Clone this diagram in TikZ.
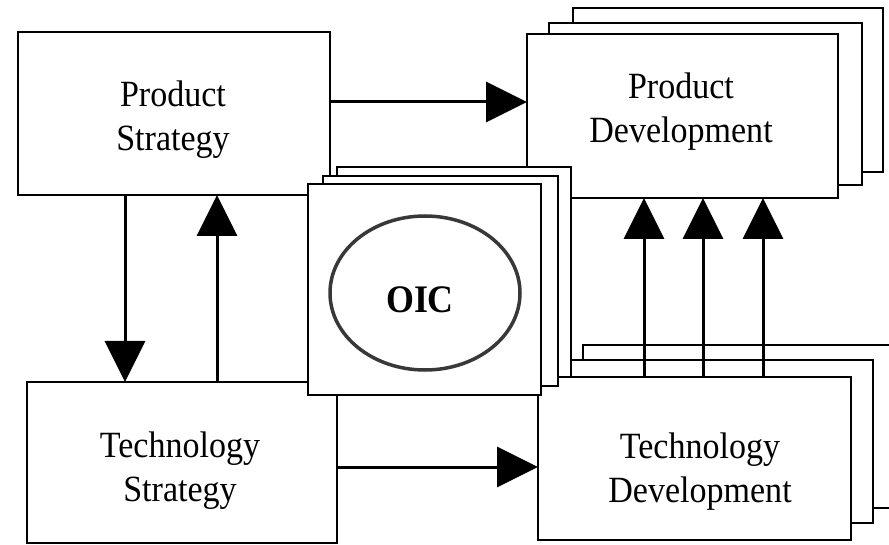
\documentclass[tikz,border=0pt]{standalone}
\usepackage{fontspec}
\setmainfont{Liberation Serif}[FakeStretch=0.92]
\usetikzlibrary{arrows.meta,shapes.geometric}
\definecolor{ringgray}{gray}{0.22}
\tikzset{
  box/.style={draw, line width=2.8pt, fill=white, rectangle, inner sep=0pt, outer sep=0pt},
  lbl/.style={align=center, inner sep=0pt, font=\fontsize{37}{44}\selectfont},
  arr/.style={line width=3pt, -{Triangle[length=41pt,width=40pt]}},
}
\begin{document}
\begin{tikzpicture}[x=1pt, y=-1pt]
  \useasboundingbox (0,0) rectangle (889,545);
  \clip (0,0) rectangle (889,545);

  % Technology Development stack (back to front)
  \node[box, minimum width=313pt, minimum height=163pt] (td3) at (739.5,426.5) {};
  \node[box, minimum width=313pt, minimum height=163pt] (td2) at (716.5,441.5) {};
  \node[box, minimum width=313pt, minimum height=163pt] (td1) at (694.5,458.5) {};

  % Product Development stack (back to front)
  \node[box, minimum width=310pt, minimum height=164pt] (pd3) at (728,90) {};
  \node[box, minimum width=313pt, minimum height=162pt] (pd2) at (705.5,104) {};
  \node[box, minimum width=311pt, minimum height=164pt] (pd1) at (682.5,116) {};

  % Strategy boxes
  \node[box, minimum width=312pt, minimum height=163pt] (ps) at (174,113.5) {};
  \node[box, minimum width=310pt, minimum height=161pt] (ts) at (182,462.5) {};

  % Box texts
  \node[lbl] (pstext) at (173,120) {Product\\Strategy};
  \node[lbl] (pdtext) at (681,111.5) {Product\\Development};
  \node[lbl] (tstext) at (180,471) {Technology\\Strategy};
  \node[lbl] (tdtext) at (700,471.5) {Technology\\Development};

  % Connectors
  \draw[arr] (ps.east |- 0,102) -- (pd1.west |- 0,102);
  \draw[arr] (ps.south -| 125,0) -- (ts.north -| 125,0);
  \draw[arr] (ts.north -| 217,0) -- (ps.south -| 217,0);
  \draw[arr] (ts.east |- 0,467) -- (td1.west |- 0,467);
  \foreach \xx in {644,703,763}
    \draw[arr] (td1.north -| \xx,0) -- (pd1.south -| \xx,0);

  % OIC stack in front
  \node[box, minimum width=234pt, minimum height=210pt] (oic3) at (454,272) {};
  \node[box, minimum width=235pt, minimum height=210pt] (oic2) at (440.5,281) {};
  \node[box, minimum width=233pt, minimum height=211pt] (oic1) at (424.5,289.5) {};
  \node[draw=ringgray, line width=3.5pt, ellipse, inner sep=0pt,
        minimum width=190pt, minimum height=154pt] (ring) at (425,293) {};
  \node[anchor=base, inner sep=0pt, font=\fontsize{39}{44}\selectfont\bfseries] (oic) at (420,313) {OIC};
\end{tikzpicture}
\end{document}
